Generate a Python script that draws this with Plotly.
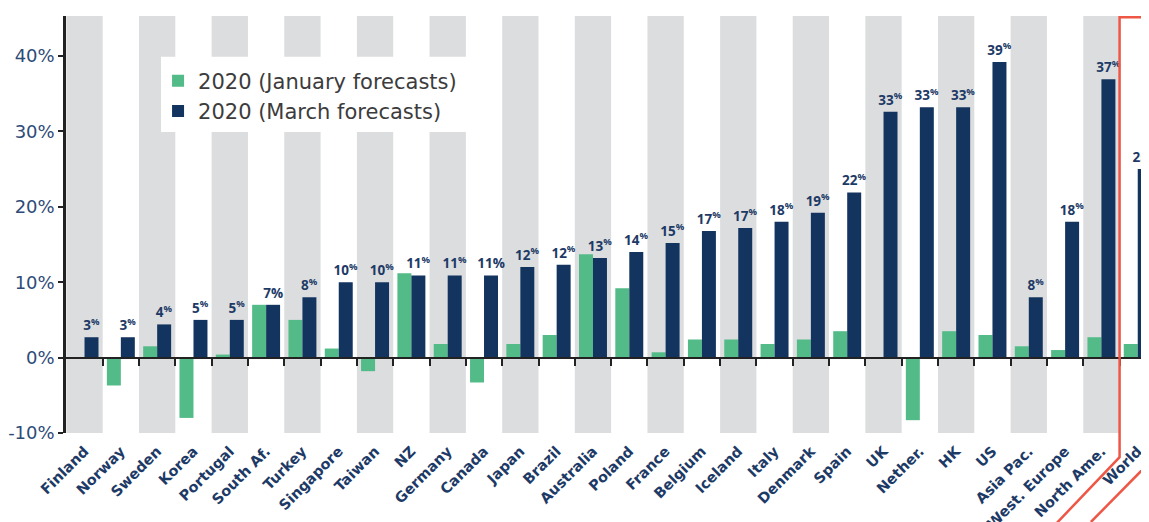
import plotly.graph_objects as go

categories = ["Finland", "Norway", "Sweden", "Korea", "Portugal", "South Af.", "Turkey",
              "Singapore", "Taiwan", "NZ", "Germany", "Canada", "Japan", "Brazil",
              "Australia", "Poland", "France", "Belgium", "Iceland", "Italy", "Denmark",
              "Spain", "UK", "Nether.", "HK", "US", "Asia Pac.", "West. Europe",
              "North Ame.", "World"]
jan_forecast = [0, -3.7, 1.5, -8.0, 0.4, 7.0, 5.0, 1.2, -1.8, 11.2, 1.8, -3.3, 1.8, 3.0,
                13.7, 9.2, 0.7, 2.4, 2.4, 1.8, 2.4, 3.5, 0, -8.3, 3.5, 3.0, 1.5, 1.0, 2.7, 1.8]
mar_forecast = [2.7, 2.7, 4.4, 5.0, 5.0, 7.0, 8.0, 10.0, 10.0, 10.9, 10.9, 10.9, 12.0, 12.3,
                13.2, 14.0, 15.2, 16.8, 17.2, 18.0, 19.2, 21.9, 32.6, 33.2, 33.2, 39.2, 8.0,
                18.0, 36.9, 25.0]
mar_labels = [3, 3, 4, 5, 5, 7, 8, 10, 10, 11, 11, 11, 12, 12, 13, 14, 15, 17, 17, 18, 19,
              22, 33, 33, 33, 39, 8, 18, 37, 25]
full_pct = ["South Af.", "Canada"]
y_ticks = [-10, 0, 10, 20, 30, 40]

GREEN = "#52bb87"
NAVY = "#13345e"
LABEL = "#1d3a66"
GRAY = "#dcdddf"
RED = "#ee5646"

n = len(categories)
xs = list(range(n))
texts = [f"{v}%" if c in full_pct else f"{v}<sup>%</sup>" for c, v in zip(categories, mar_labels)]

fig = go.Figure()
fig.add_trace(go.Bar(x=xs, y=jan_forecast, name="2020 (January forecasts)",
                     marker=dict(color=GREEN, line=dict(width=0))))
fig.add_trace(go.Bar(x=xs, y=mar_forecast, name="2020 (March forecasts)",
                     marker=dict(color=NAVY, line=dict(width=0)),
                     text=texts, textposition="outside", constraintext="none",
                     cliponaxis=False,
                     textfont=dict(family="Open Sans", size=13.5, color=LABEL, weight="bold")))
fig.add_trace(go.Scatter(x=[], y=[], xaxis="x2", showlegend=False, hoverinfo="skip"))

YMIN, YMAX = -10, 45.3
shapes = []
for i in range(0, n, 2):
    shapes.append(dict(type="rect", xref="x", yref="paper", x0=i - 0.5, x1=i + 0.5,
                       y0=0, y1=1, fillcolor=GRAY, line=dict(width=0), layer="below"))
# white panel behind legend
shapes.append(dict(type="rect", xref="paper", yref="paper", x0=0.0877, x1=0.382,
                   y0=0.722, y1=0.902, fillcolor="white", line=dict(width=0), layer="below"))
# red outline around World
b = n - 1.5
shapes.append(dict(type="path", xref="x", yref="paper",
                   path=f"M {n + 1},0.997 L {b},0.997 L {b},-0.058 L {b - 1.72},-0.215",
                   line=dict(color=RED, width=2.5)))
shapes.append(dict(type="path", xref="x", yref="paper",
                   path=f"M {n + 0.0},-0.011 L {b - 0.79},-0.2134",
                   line=dict(color=RED, width=2.5)))

zero_pos = (0 - YMIN) / (YMAX - YMIN)

fig.update_layout(
    width=1141, height=514,
    margin=dict(l=58, r=0, t=8, b=89, autoexpand=False),
    plot_bgcolor="white", paper_bgcolor="white",
    barmode="group", bargap=0.23, bargroupgap=0,
    showlegend=True,
    legend=dict(x=0.085, y=0.893, xanchor="left", yanchor="top",
                bgcolor="rgba(0,0,0,0)", borderwidth=0,
                font=dict(family="DejaVu Sans", size=21, color="#3c3c3c")),
    xaxis=dict(type="linear", range=[-0.51, 29.31], tickvals=xs, ticktext=categories,
               tickangle=-45, ticks="", showline=False, showgrid=False, zeroline=False,
               automargin=False, ticklabelstandoff=6,
               tickfont=dict(family="DejaVu Sans", size=14.5, color=LABEL, weight="bold")),
    xaxis2=dict(type="linear", overlaying="x", matches="x", anchor="free", position=zero_pos,
                tickvals=[i + 0.5 for i in range(n - 1)], ticks="outside", ticklen=7,
                tickwidth=2, tickcolor="#222", showticklabels=False, showline=True,
                linecolor="#222", linewidth=2, showgrid=False, zeroline=False),
    yaxis=dict(range=[YMIN, YMAX], tickvals=y_ticks, ticktext=[f"{v}%" for v in y_ticks],
               ticks="outside", ticklen=5, tickwidth=2, tickcolor="#222", automargin=False,
               showline=True, linecolor="#222", linewidth=2.5, showgrid=False, zeroline=False,
               tickfont=dict(family="DejaVu Sans", size=18, color="#2e4b78")),
    shapes=shapes,
)

fig.write_html("out.html")
